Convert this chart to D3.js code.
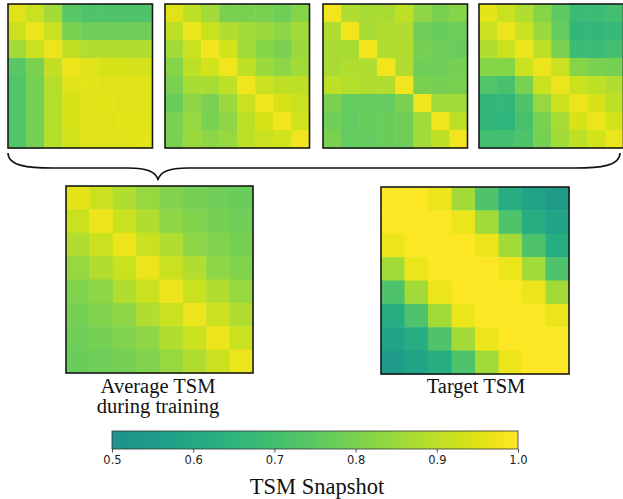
<!DOCTYPE html>
<html>
<head>
<meta charset="utf-8">
<script src="https://cdn.jsdelivr.net/npm/d3@7"></script>
<style>
  html, body { margin: 0; padding: 0; background: #fff; }
  svg { display: block; }
</style>
</head>
<body>
<svg id="chart" width="623" height="499"></svg>
<script>
// ---- Data (8x8 TSM matrices, values in [0.5, 1.0]) ----
const snapshot1 = [
  [0.95, 0.92, 0.86, 0.74, 0.72, 0.72, 0.72, 0.72],
  [0.92, 0.97, 0.92, 0.80, 0.78, 0.78, 0.78, 0.78],
  [0.86, 0.92, 0.97, 0.91, 0.88, 0.88, 0.88, 0.88],
  [0.74, 0.80, 0.91, 0.97, 0.95, 0.94, 0.94, 0.93],
  [0.73, 0.79, 0.89, 0.95, 0.96, 0.95, 0.95, 0.95],
  [0.73, 0.79, 0.89, 0.94, 0.95, 0.96, 0.95, 0.95],
  [0.73, 0.79, 0.89, 0.94, 0.95, 0.95, 0.96, 0.95],
  [0.73, 0.79, 0.89, 0.93, 0.95, 0.95, 0.95, 0.96]
];
const snapshot2 = [
  [0.95, 0.90, 0.86, 0.80, 0.80, 0.80, 0.78, 0.82],
  [0.90, 0.97, 0.92, 0.88, 0.86, 0.85, 0.83, 0.86],
  [0.86, 0.92, 0.98, 0.93, 0.86, 0.82, 0.80, 0.85],
  [0.82, 0.90, 0.93, 0.98, 0.90, 0.85, 0.83, 0.86],
  [0.80, 0.87, 0.87, 0.90, 0.98, 0.92, 0.90, 0.90],
  [0.77, 0.83, 0.80, 0.85, 0.92, 0.98, 0.94, 0.92],
  [0.80, 0.84, 0.80, 0.83, 0.90, 0.94, 0.98, 0.93],
  [0.80, 0.85, 0.83, 0.84, 0.90, 0.92, 0.93, 0.98]
];
const snapshot3 = [
  [0.98, 0.88, 0.87, 0.87, 0.90, 0.83, 0.80, 0.82],
  [0.88, 0.98, 0.87, 0.88, 0.88, 0.78, 0.77, 0.78],
  [0.87, 0.87, 0.98, 0.88, 0.88, 0.79, 0.78, 0.77],
  [0.87, 0.88, 0.88, 0.98, 0.88, 0.78, 0.78, 0.79],
  [0.90, 0.89, 0.88, 0.88, 0.98, 0.80, 0.79, 0.80],
  [0.80, 0.76, 0.76, 0.76, 0.80, 0.98, 0.86, 0.86],
  [0.78, 0.76, 0.77, 0.77, 0.78, 0.86, 0.98, 0.90],
  [0.80, 0.76, 0.76, 0.77, 0.78, 0.86, 0.90, 0.98]
];
const snapshot4 = [
  [0.96, 0.92, 0.88, 0.82, 0.75, 0.68, 0.68, 0.70],
  [0.92, 0.97, 0.92, 0.85, 0.76, 0.66, 0.66, 0.67],
  [0.88, 0.92, 0.97, 0.90, 0.80, 0.68, 0.68, 0.70],
  [0.82, 0.82, 0.92, 0.97, 0.92, 0.82, 0.80, 0.79],
  [0.73, 0.71, 0.80, 0.92, 0.97, 0.92, 0.90, 0.88],
  [0.66, 0.66, 0.72, 0.84, 0.92, 0.97, 0.94, 0.90],
  [0.66, 0.65, 0.71, 0.80, 0.87, 0.94, 0.97, 0.93],
  [0.70, 0.70, 0.72, 0.79, 0.86, 0.90, 0.93, 0.97]
];
const averageTSM = [
  [0.96, 0.92, 0.88, 0.84, 0.81, 0.79, 0.78, 0.77],
  [0.92, 0.97, 0.92, 0.88, 0.83, 0.81, 0.79, 0.78],
  [0.88, 0.92, 0.97, 0.92, 0.88, 0.83, 0.81, 0.79],
  [0.84, 0.88, 0.92, 0.97, 0.92, 0.88, 0.83, 0.81],
  [0.81, 0.83, 0.88, 0.92, 0.97, 0.92, 0.88, 0.84],
  [0.79, 0.81, 0.83, 0.88, 0.92, 0.97, 0.92, 0.88],
  [0.78, 0.79, 0.81, 0.83, 0.88, 0.92, 0.97, 0.92],
  [0.77, 0.78, 0.79, 0.81, 0.84, 0.88, 0.92, 0.97]
];
const targetTSM = [
  [1.00, 1.00, 0.97, 0.86, 0.72, 0.62, 0.58, 0.55],
  [1.00, 1.00, 1.00, 0.97, 0.86, 0.72, 0.62, 0.58],
  [0.97, 1.00, 1.00, 1.00, 0.97, 0.86, 0.72, 0.62],
  [0.86, 0.97, 1.00, 1.00, 1.00, 0.97, 0.86, 0.72],
  [0.72, 0.86, 0.97, 1.00, 1.00, 1.00, 0.97, 0.86],
  [0.62, 0.72, 0.86, 0.97, 1.00, 1.00, 1.00, 0.97],
  [0.58, 0.62, 0.72, 0.86, 0.97, 1.00, 1.00, 1.00],
  [0.55, 0.58, 0.62, 0.72, 0.86, 0.97, 1.00, 1.00]
];
const bottomLabels = [["Average TSM", "during training"], ["Target TSM"]];
const colorbarTicks = [0.5, 0.6, 0.7, 0.8, 0.9, 1.0];
const colorbarDomain = [0.5, 1.0];
const colorbarTitle = "TSM Snapshot";

// ---- Drawing ----
const svg = d3.select("#chart");
const color = d3.scaleSequential(d3.interpolateViridis).domain([0, 1]).clamp(true);
const serif = "'Liberation Serif', 'Times New Roman', serif";

function heatmap(matrix, x0, y0, w, h) {
  const n = matrix.length;
  const xs = d3.scaleBand().domain(d3.range(n)).range([x0, x0 + w]);
  const ys = d3.scaleBand().domain(d3.range(n)).range([y0, y0 + h]);
  const g = svg.append("g");
  const cells = [];
  matrix.forEach((row, i) => row.forEach((v, j) => cells.push({ i, j, v })));
  g.selectAll("rect.cell").data(cells).join("rect")
    .attr("class", "cell")
    .attr("x", d => xs(d.j))
    .attr("y", d => ys(d.i))
    .attr("width", xs.bandwidth() + 0.5)
    .attr("height", ys.bandwidth() + 0.5)
    .attr("fill", d => color(d.v));
  g.append("rect")
    .attr("x", x0).attr("y", y0).attr("width", w).attr("height", h)
    .attr("fill", "none").attr("stroke", "#1a1a1a").attr("stroke-width", 1.6);
}

// top row of snapshots
const topMats = [snapshot1, snapshot2, snapshot3, snapshot4];
const topX = [8, 165, 323, 479];
topMats.forEach((m, k) => heatmap(m, topX[k], 4, 144.5, 144));

// brace
const bL = 8, bR = 620, bTop = 153, bMid = 168, bTip = 180, tipX = 158;
const brace = d3.path();
brace.moveTo(bL, bTop);
brace.bezierCurveTo(bL, bMid - 2, bL + 20, bMid, bL + 45, bMid);
brace.lineTo(tipX - 30, bMid);
brace.bezierCurveTo(tipX - 10, bMid, tipX - 2, bMid + 4, tipX, bTip);
brace.bezierCurveTo(tipX + 2, bMid + 4, tipX + 10, bMid, tipX + 30, bMid);
brace.lineTo(bR - 45, bMid);
brace.bezierCurveTo(bR - 20, bMid, bR, bMid - 2, bR, bTop);
svg.append("path").attr("d", brace.toString())
  .attr("fill", "none").attr("stroke", "#111").attr("stroke-width", 1.6);

// bottom heatmaps
heatmap(averageTSM, 66, 186, 187, 187);
heatmap(targetTSM, 381, 187, 188, 187);

// labels
const labelPos = [[158, 393], [476, 393]];
bottomLabels.forEach((lines, k) => {
  const t = svg.append("text")
    .attr("x", labelPos[k][0]).attr("y", labelPos[k][1])
    .attr("text-anchor", "middle")
    .attr("font-family", serif).attr("font-size", 20.5).attr("fill", "#111");
  lines.forEach((ln, li) => {
    t.append("tspan").attr("x", labelPos[k][0]).attr("dy", li === 0 ? 0 : 20).text(ln);
  });
});

// colorbar
const cbX0 = 112, cbX1 = 518, cbY = 431, cbH = 18;
const cbScale = d3.scaleLinear().domain(colorbarDomain).range([cbX0, cbX1]);
const defs = svg.append("defs");
const grad = defs.append("linearGradient").attr("id", "cbgrad")
  .attr("x1", "0%").attr("x2", "100%").attr("y1", "0%").attr("y2", "0%");
d3.range(0, 1.0001, 0.05).forEach(t => {
  const v = colorbarDomain[0] + t * (colorbarDomain[1] - colorbarDomain[0]);
  grad.append("stop").attr("offset", (t * 100) + "%").attr("stop-color", color(v));
});
svg.append("rect").attr("x", cbX0).attr("y", cbY).attr("width", cbX1 - cbX0).attr("height", cbH)
  .attr("fill", "url(#cbgrad)").attr("stroke", "#333").attr("stroke-width", 0.8);

const axis = d3.axisBottom(cbScale).tickValues(colorbarTicks).tickFormat(d3.format(".1f")).tickSize(3.5).tickPadding(3);
const ag = svg.append("g").attr("transform", `translate(0,${cbY + cbH})`).call(axis);
ag.select(".domain").remove();
ag.selectAll(".tick line").attr("stroke", "#222").attr("stroke-width", 0.8);
ag.selectAll(".tick text").attr("font-family", "'DejaVu Sans', sans-serif").attr("font-size", 11.5).attr("fill", "#222");

svg.append("text").attr("x", 317).attr("y", 494).attr("text-anchor", "middle")
  .attr("font-family", serif).attr("font-size", 22.5).attr("fill", "#111").text(colorbarTitle);
</script>
</body>
</html>
